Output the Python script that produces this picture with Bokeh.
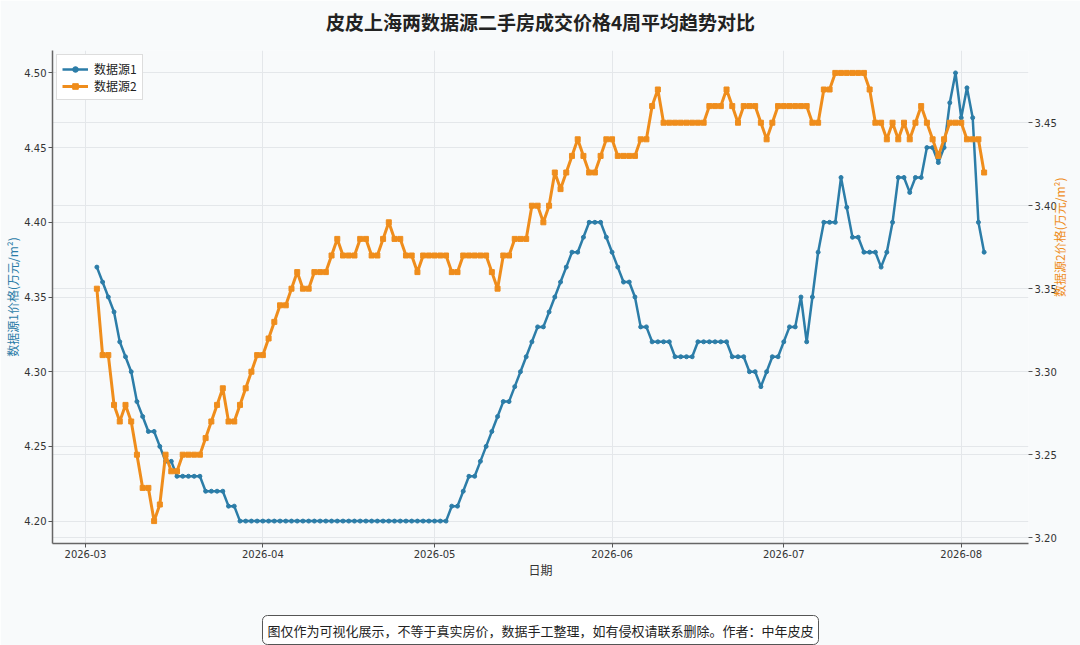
import math
import pandas as pd
from bokeh.plotting import figure
from bokeh.models import (Range1d, LinearAxis, FixedTicker, NumeralTickFormatter,
                          DatetimeTickFormatter, Grid, Title, Legend, LegendItem,
                          ColumnDataSource)
from bokeh.embed import file_html
from bokeh.resources import INLINE

# ---------------- data ----------------
title_text = "皮皮上海两数据源二手房成交价格4周平均趋势对比"
series1_name = "数据源1"
series2_name = "数据源2"
x_label = "日期"
y1_label = "数据源1价格(万元/m²)"
y2_label = "数据源2价格(万元/m²)"
footer_text = "图仅作为可视化展示，不等于真实房价，数据手工整理，如有侵权请联系删除。作者：中年皮皮"

start_date = "2026-03-03"
end_date = "2026-08-05"

source1 = [
    4.37, 4.36, 4.35, 4.34, 4.32, 4.31, 4.30, 4.28, 4.27, 4.26, 4.26, 4.25, 4.24, 4.24,
    4.23, 4.23, 4.23, 4.23, 4.23, 4.22, 4.22, 4.22, 4.22, 4.21, 4.21,
    4.20, 4.20, 4.20, 4.20, 4.20, 4.20, 4.20, 4.20, 4.20, 4.20, 4.20, 4.20, 4.20,
    4.20, 4.20, 4.20, 4.20, 4.20, 4.20, 4.20, 4.20, 4.20, 4.20, 4.20, 4.20, 4.20,
    4.20, 4.20, 4.20, 4.20, 4.20, 4.20, 4.20, 4.20, 4.20, 4.20, 4.20,
    4.21, 4.21, 4.22, 4.23, 4.23, 4.24, 4.25, 4.26, 4.27, 4.28, 4.28, 4.29, 4.30,
    4.31, 4.32, 4.33, 4.33, 4.34, 4.35, 4.36, 4.37, 4.38, 4.38, 4.39, 4.40, 4.40,
    4.40, 4.39, 4.38, 4.37, 4.36, 4.36, 4.35, 4.33, 4.33,
    4.32, 4.32, 4.32, 4.32, 4.31, 4.31, 4.31, 4.31,
    4.32, 4.32, 4.32, 4.32, 4.32, 4.32, 4.31, 4.31, 4.31, 4.30, 4.30,
    4.29, 4.30, 4.31, 4.31, 4.32, 4.33, 4.33, 4.35, 4.32, 4.35, 4.38,
    4.40, 4.40, 4.40, 4.43, 4.41, 4.39, 4.39, 4.38, 4.38, 4.38, 4.37, 4.38,
    4.40, 4.43, 4.43, 4.42, 4.43, 4.43, 4.45, 4.45, 4.44, 4.45, 4.48, 4.50,
    4.47, 4.49, 4.47, 4.40, 4.38,
]

source2 = [
    3.35, 3.31, 3.31, 3.28, 3.27, 3.28, 3.27, 3.25, 3.23, 3.23, 3.21, 3.22, 3.25, 3.24, 3.24,
    3.25, 3.25, 3.25, 3.25,
    3.26, 3.27, 3.28, 3.29, 3.27, 3.27, 3.28, 3.29, 3.30, 3.31,
    3.31, 3.32, 3.33, 3.34, 3.34, 3.35, 3.36, 3.35, 3.35, 3.36, 3.36, 3.36, 3.37, 3.38,
    3.37, 3.37, 3.37, 3.38, 3.38, 3.37, 3.37, 3.38, 3.39, 3.38, 3.38, 3.37, 3.37, 3.36,
    3.37, 3.37, 3.37, 3.37, 3.37, 3.36, 3.36, 3.37, 3.37, 3.37, 3.37, 3.37,
    3.36, 3.35, 3.37, 3.37, 3.38, 3.38, 3.38, 3.40, 3.40, 3.39, 3.40, 3.42, 3.41, 3.42,
    3.43, 3.44, 3.43, 3.42, 3.42, 3.43, 3.44, 3.44, 3.43, 3.43, 3.43, 3.43, 3.44, 3.44,
    3.46, 3.47,
    3.45, 3.45, 3.45, 3.45, 3.45, 3.45, 3.45, 3.45, 3.46, 3.46, 3.46,
    3.47, 3.46, 3.45, 3.46, 3.46, 3.46, 3.45, 3.44, 3.45,
    3.46, 3.46, 3.46, 3.46, 3.46, 3.46, 3.45, 3.45, 3.47, 3.47,
    3.48, 3.48, 3.48, 3.48, 3.48, 3.48,
    3.47, 3.45, 3.45, 3.44, 3.45, 3.44, 3.45, 3.44, 3.45, 3.46, 3.45, 3.44, 3.43, 3.44,
    3.45, 3.45, 3.45, 3.44, 3.44, 3.44, 3.42,
]

x_tick_labels = ["2026-03", "2026-04", "2026-05", "2026-06", "2026-07", "2026-08"]
left_ticks = [4.20, 4.25, 4.30, 4.35, 4.40, 4.45, 4.50]
right_ticks = [3.20, 3.25, 3.30, 3.35, 3.40, 3.45]

# ---------------- styling ----------------
BLUE = "#2C7DA8"
ORANGE = "#EF8D1C"
BG = "#f8fafb"
CJK = "Noto Sans CJK SC"
LATIN = "DejaVu Sans"

dates = pd.date_range(start_date, end_date, freq="D")
src = ColumnDataSource(dict(date=dates, s1=source1, s2=source2))

span = dates[-1] - dates[0]
x_range = Range1d(dates[0] - span * 0.05, dates[-1] + span * 0.05)


def padded(vals):
    lo, hi = min(vals), max(vals)
    m = (hi - lo) * 0.05
    return lo - m, hi + m


y1_lo, y1_hi = padded(source1)
y2_lo, y2_hi = padded(source2)

W, H = 1080, 645
ML, MR, MT, MB = 52, 52, 50, 102

p = figure(width=W, height=H, x_axis_type="datetime", x_range=x_range,
           y_range=Range1d(y1_lo, y1_hi), output_backend="svg",
           toolbar_location=None, min_border_left=ML, min_border_right=MR,
           min_border_top=MT, min_border_bottom=MB,
           background_fill_color=BG, border_fill_color=BG, outline_line_color=None)

# title (with an empty spacer between it and the plot)
p.title.text = title_text
p.title.align = "center"
p.title.text_font = CJK
p.title.text_font_size = "19px"
p.title.text_font_style = "bold"
p.title.text_color = "#222222"
p.title.standoff = 0
p.add_layout(Title(text=" ", text_font_size="10px", standoff=3), "above")

p.extra_y_ranges = {"right": Range1d(y2_lo, y2_hi)}

x_tick_ms = [pd.Timestamp(t + "-01").value / 1e6 for t in x_tick_labels]
x_ticker = FixedTicker(ticks=x_tick_ms)
fmt = "%Y-%m"
p.xaxis.ticker = x_ticker
p.xaxis.formatter = DatetimeTickFormatter(years=fmt, months=fmt, days=fmt, hours=fmt,
                                          hourmin=fmt, minutes=fmt, minsec=fmt,
                                          seconds=fmt, milliseconds=fmt,
                                          microseconds=fmt)
p.yaxis.ticker = FixedTicker(ticks=left_ticks)
p.yaxis.formatter = NumeralTickFormatter(format="0.00")

right_axis = LinearAxis(y_range_name="right", ticker=FixedTicker(ticks=right_ticks),
                        formatter=NumeralTickFormatter(format="0.00"))
p.add_layout(right_axis, "right")

for ax in [p.xaxis[0], p.yaxis[0], right_axis]:
    ax.major_label_text_font = LATIN
    ax.major_label_text_font_size = "10px"
    ax.major_label_text_color = "#333333"
    ax.major_tick_out = 4
    ax.major_tick_in = 0
    ax.minor_tick_out = 0
    ax.minor_tick_in = 0
    ax.major_tick_line_color = "#555555"
    ax.axis_line_color = "#666666"
    ax.axis_line_width = 1.5
    ax.major_label_standoff = 2
    ax.axis_label_text_font = CJK
    ax.axis_label_text_font_style = "normal"
    ax.axis_label_text_font_size = "12px"
right_axis.axis_line_color = None

p.xaxis.axis_label = x_label
p.xaxis.axis_label_text_color = "#333333"
p.xaxis.axis_label_standoff = 0

p.yaxis.axis_label = y1_label
p.yaxis.axis_label_text_color = BLUE
p.yaxis.axis_label_standoff = 0

right_axis.axis_label = y2_label
right_axis.axis_label_text_color = ORANGE
right_axis.axis_label_standoff = 0
try:
    right_axis.axis_label_orientation = math.pi / 2
except Exception:
    pass

p.xgrid.ticker = x_ticker
p.ygrid.ticker = FixedTicker(ticks=left_ticks)
for g in [p.xgrid[0], p.ygrid[0]]:
    g.grid_line_color = "#e4e7ea"
    g.grid_line_width = 1
rgrid = Grid(dimension=1, ticker=FixedTicker(ticks=right_ticks), y_range_name="right",
             grid_line_color="#e4e7ea", grid_line_width=1)
p.add_layout(rgrid)

l1 = p.line("date", "s1", source=src, line_color=BLUE, line_width=2.5)
m1 = p.scatter("date", "s1", source=src, marker="circle", size=4,
               fill_color=BLUE, line_color=BLUE)
l2 = p.line("date", "s2", source=src, line_color=ORANGE, line_width=3,
            y_range_name="right")
m2 = p.scatter("date", "s2", source=src, marker="square", size=5,
               fill_color=ORANGE, line_color=ORANGE, y_range_name="right")

legend = Legend(items=[LegendItem(label=series1_name, renderers=[l1, m1]),
                       LegendItem(label=series2_name, renderers=[l2, m2])],
                location="top_left", margin=4, padding=5, spacing=0,
                glyph_width=26, glyph_height=14, label_standoff=6,
                label_text_font=CJK, label_text_font_size="12px",
                label_text_color="#222222", label_height=14,
                border_line_color="#bbbbbb", border_line_width=1,
                background_fill_color="white", background_fill_alpha=1)
p.add_layout(legend)

# spacer, then the footer note at the bottom edge
p.add_layout(Title(text=" ", text_font_size="10px", standoff=19), "below")
footer = Title(text=footer_text, align="center", text_font=CJK,
               text_font_size="13px", text_font_style="normal",
               text_color="#222222", background_fill_color="white",
               border_line_color="#555555", border_line_width=1,
               padding=5, border_radius=5, standoff=2)
p.add_layout(footer, "below")

open("out.html", "w").write(file_html(p, INLINE))
